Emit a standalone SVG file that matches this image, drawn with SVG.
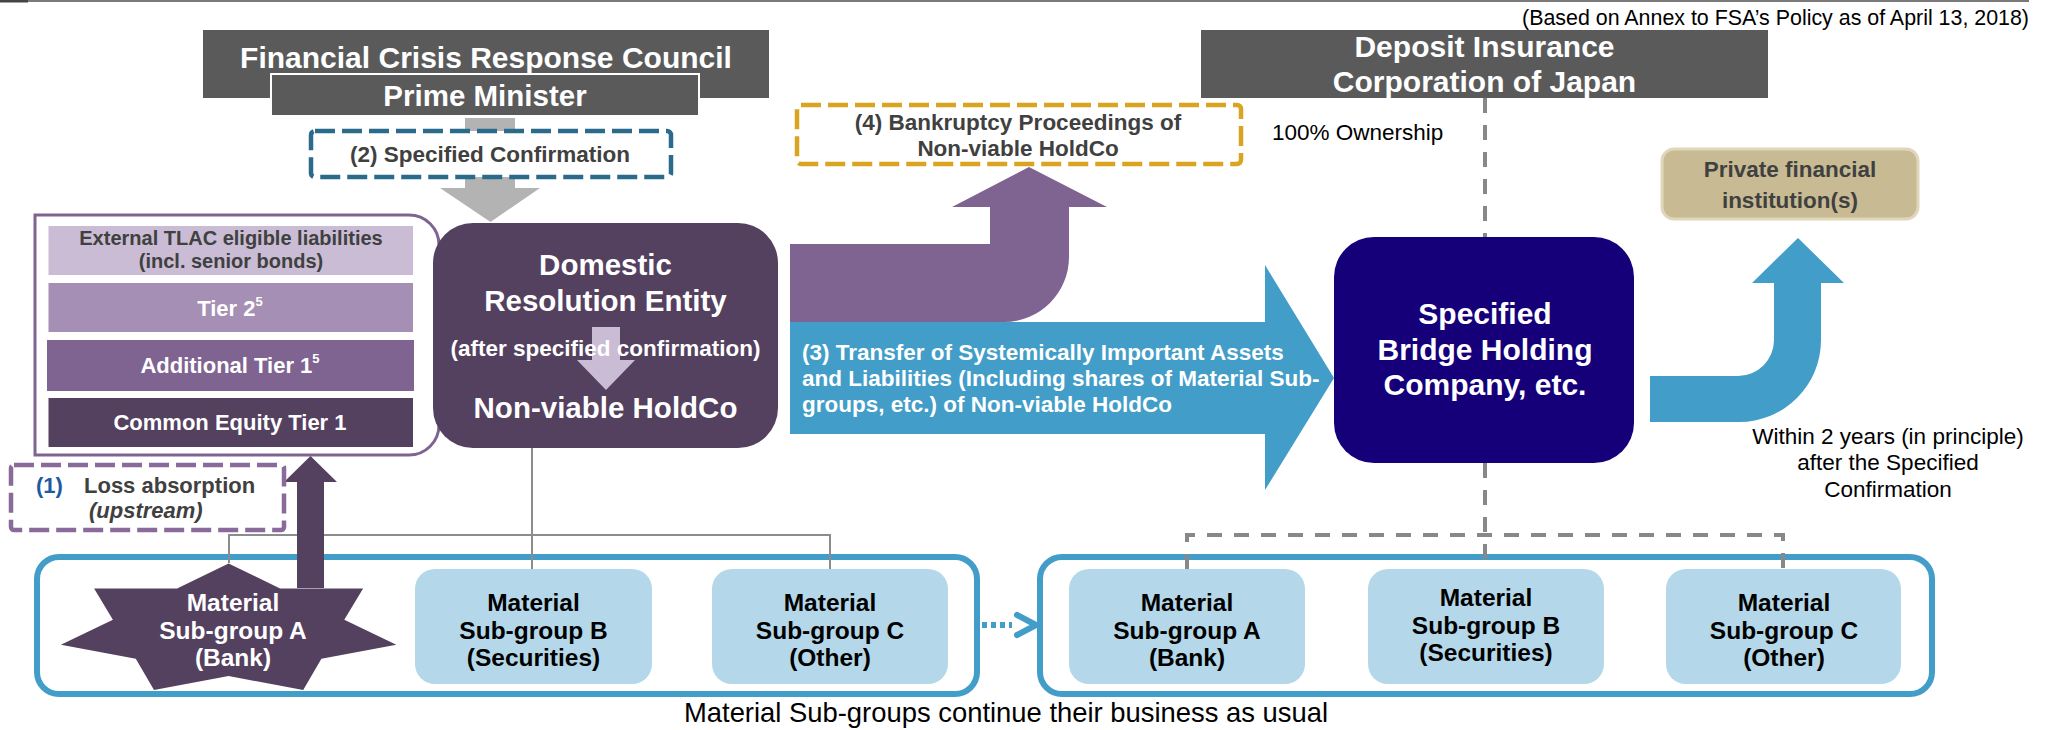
<svg xmlns="http://www.w3.org/2000/svg" width="2049" height="730" viewBox="0 0 2049 730">
<defs>
<style>
text{font-family:"Liberation Sans",Arial,sans-serif}
.b{font-weight:bold}
.w{fill:#ffffff}
.dg{fill:#404040}
.k{fill:#000000}
.mid{text-anchor:middle}
.gray{fill:#5a5a5a}
.dpur{fill:#54405f}
.lblue{fill:#b4d8e9}
.sg{font-size:24.5px;font-weight:bold;text-anchor:middle}
.cont{fill:#ffffff;stroke:#429dc8;stroke-width:6}
.thin{fill:none;stroke:#8c8c8c;stroke-width:2}
.dash{fill:none;stroke:#888888;stroke-width:4;stroke-dasharray:15 12}
.dbox{fill:#ffffff;stroke-width:4.5;stroke-dasharray:20 7}
</style>
</defs>
<rect width="2049" height="730" fill="#ffffff"/>
<line x1="0" y1="1" x2="2029" y2="1" stroke="#7a7a7a" stroke-width="2"/>
<line x1="0" y1="1" x2="28" y2="1" stroke="#444444" stroke-width="3"/>
<text x="2029" y="25" font-size="21.4" class="k" text-anchor="end">(Based on Annex to FSA’s Policy as of April 13, 2018)</text>

<!-- containers -->
<g id="tlac-stack">
<path d="M35 215 H409 A30 30 0 0 1 439 245 V425 A30 30 0 0 1 409 455 H35 Z" fill="#ffffff" stroke="#7f6491" stroke-width="3"/>
<rect x="48.5" y="226" width="364.5" height="49" fill="#c9bcd4"/>
<text x="231" y="245" font-size="20" class="b dg mid">External TLAC eligible liabilities</text>
<text x="231" y="268" font-size="20" class="b dg mid">(incl. senior bonds)</text>
<rect x="48.5" y="283" width="364.5" height="49" fill="#a58fb4"/>
<text x="230" y="316" font-size="22" class="b w mid">Tier 2<tspan font-size="13" dy="-10">5</tspan></text>
<rect x="47" y="340" width="367" height="51" fill="#7f6491"/>
<text x="230" y="373" font-size="22" class="b w mid">Additional Tier 1<tspan font-size="13" dy="-10">5</tspan></text>
<rect x="48.5" y="398" width="364.5" height="49" class="dpur"/>
<text x="230" y="430" font-size="22" class="b w mid">Common Equity Tier 1</text>
</g>
<g id="group-left">
<rect x="37" y="557" width="940" height="137" rx="22" class="cont"/>
</g>
<g id="group-right">
<rect x="1040" y="557" width="892" height="137" rx="22" class="cont"/>
</g>

<!-- connectors -->
<g id="connectors">
<polyline points="532,448 532,569" class="thin"/>
<polyline points="229,563 229,535 830,535 830,569" class="thin"/>
<path d="M465 118 H515 V188 H540 L490.5 222 L440 188 H465 Z" fill="#b3b3b3"/>
<line x1="1485" y1="98" x2="1485" y2="237" class="dash"/>
<line x1="1485" y1="463" x2="1485" y2="569" class="dash"/>
<polyline points="1187,569 1187,535 1783,535 1783,569" class="dash"/>
<path d="M297 588 V482 H284 L310.5 456 L337 482 H324 V588 Z" class="dpur"/>
<line x1="982" y1="625" x2="1012" y2="625" stroke="#429dc8" stroke-width="6" stroke-dasharray="5 4"/>
<polyline points="1017,615 1036,625 1017,635" fill="none" stroke="#429dc8" stroke-width="6" stroke-linecap="round" stroke-linejoin="round"/>
<path d="M790 244 H990 V207 H952 L1029 167 L1107 207 H1069 V257 A65 65 0 0 1 1004 322 H790 Z" fill="#7f6491"/>
<path d="M790 322 H1265 V265 L1334 378 L1265 490 V434 H790 Z" fill="#429dc8"/>
<text x="802" y="360" font-size="22.5" class="b w">(3) Transfer of Systemically Important Assets</text>
<text x="802" y="386" font-size="22.5" class="b w">and Liabilities (Including shares of Material Sub-</text>
<text x="802" y="412" font-size="22.5" class="b w">groups, etc.) of Non-viable HoldCo</text>
<path d="M1650 376 H1738 A36 36 0 0 0 1774 340 V283 H1752 L1798 238 L1844 283 H1821 V340 A82 82 0 0 1 1739 422 H1650 Z" fill="#429dc8"/>
</g>

<!-- nodes -->
<g id="fcrc">
<rect x="203" y="30" width="566" height="68" class="gray"/>
<text x="486" y="68" font-size="30" class="b w mid">Financial Crisis Response Council</text>
</g>
<g id="prime-minister">
<rect x="271" y="74" width="428" height="42" class="gray" stroke="#ffffff" stroke-width="2"/>
<text x="485" y="106" font-size="29.5" class="b w mid">Prime Minister</text>
</g>
<g id="specified-confirmation">
<rect x="311" y="131" width="360" height="46" rx="4" class="dbox" stroke="#2a6b8b"/>
<text x="490" y="162" font-size="22.5" class="b dg mid">(2) Specified Confirmation</text>
</g>
<g id="domestic-entity">
<rect x="433" y="223" width="345" height="225" rx="40" class="dpur"/>
<path d="M592 327 H620 V360 H635 L606 390 L577 360 H592 Z" fill="#c9bcd4"/>
<text x="605.5" y="275" font-size="29.5" class="b w mid">Domestic</text>
<text x="605.5" y="311" font-size="29.5" class="b w mid">Resolution Entity</text>
<text x="605.5" y="356" font-size="22.5" class="b w mid">(after specified confirmation)</text>
<text x="605.5" y="418" font-size="29.5" class="b w mid">Non-viable HoldCo</text>
</g>
<g id="loss-absorption">
<rect x="11" y="465" width="273" height="65" rx="3" class="dbox" stroke="#8a6a9a"/>
<text x="36" y="493" font-size="22" class="b" fill="#1f5aa0">(1)</text>
<text x="84" y="493" font-size="22" class="b dg">Loss absorption</text>
<text x="89" y="518" font-size="22" class="b dg" font-style="italic">(upstream)</text>
</g>
<g id="bankruptcy">
<rect x="797" y="105" width="444" height="59" rx="4" class="dbox" stroke="#d9a520"/>
<text x="1018" y="130" font-size="22.5" class="b dg mid">(4) Bankruptcy Proceedings of</text>
<text x="1018" y="156" font-size="22.5" class="b dg mid">Non-viable HoldCo</text>
</g>
<g id="dicj">
<rect x="1201" y="30" width="567" height="68" class="gray"/>
<text x="1484.5" y="57" font-size="30" class="b w mid">Deposit Insurance</text>
<text x="1484.5" y="92" font-size="30" class="b w mid">Corporation of Japan</text>
</g>
<g id="ownership-label">
<text x="1272" y="140" font-size="22.5" class="k">100% Ownership</text>
</g>
<g id="private-fi">
<rect x="1662" y="149" width="256" height="70" rx="12" fill="#c8ba93" stroke="#e0d7bb" stroke-width="3"/>
<text x="1790" y="177" font-size="22.5" class="b dg mid">Private financial</text>
<text x="1790" y="208" font-size="22.5" class="b dg mid">institution(s)</text>
</g>
<g id="bridge">
<rect x="1334" y="237" width="300" height="226" rx="40" fill="#15007a"/>
<text x="1485" y="324" font-size="30" class="b w mid">Specified</text>
<text x="1485" y="360" font-size="30" class="b w mid">Bridge Holding</text>
<text x="1485" y="395" font-size="30" class="b w mid">Company, etc.</text>
</g>
<g id="within-label">
<text x="1888" y="444" font-size="22.5" class="k mid">Within 2 years (in principle)</text>
<text x="1888" y="470" font-size="22.5" class="k mid">after the Specified</text>
<text x="1888" y="497" font-size="22.5" class="k mid">Confirmation</text>
</g>
<g id="subgroup-a-left">
<polygon points="228.6,563.4 280.1,588.6 363.1,588.5 344.3,619.8 396.3,644.8 321.4,658.7 303.2,690 228.6,676 154,690 135.8,658.7 60.9,644.8 112.9,619.8 94.1,588.5 177.1,588.6" class="dpur"/>
<text x="233" y="611" class="sg w">Material</text>
<text x="233" y="638.5" class="sg w">Sub-group A</text>
<text x="233" y="666" class="sg w">(Bank)</text>
</g>
<g id="subgroup-b-left">
<rect x="415" y="569" width="237" height="115" rx="20" class="lblue"/>
<text x="533.5" y="611" class="sg k">Material</text>
<text x="533.5" y="638.5" class="sg k">Sub-group B</text>
<text x="533.5" y="666" class="sg k">(Securities)</text>
</g>
<g id="subgroup-c-left">
<rect x="712" y="569" width="236" height="115" rx="20" class="lblue"/>
<text x="830" y="611" class="sg k">Material</text>
<text x="830" y="638.5" class="sg k">Sub-group C</text>
<text x="830" y="666" class="sg k">(Other)</text>
</g>
<g id="subgroup-a-right">
<rect x="1069" y="569" width="236" height="115" rx="20" class="lblue"/>
<text x="1187" y="611" class="sg k">Material</text>
<text x="1187" y="638.5" class="sg k">Sub-group A</text>
<text x="1187" y="666" class="sg k">(Bank)</text>
</g>
<g id="subgroup-b-right">
<rect x="1368" y="569" width="236" height="115" rx="20" class="lblue"/>
<text x="1486" y="606" class="sg k">Material</text>
<text x="1486" y="633.5" class="sg k">Sub-group B</text>
<text x="1486" y="661" class="sg k">(Securities)</text>
</g>
<g id="subgroup-c-right">
<rect x="1666" y="569" width="235" height="115" rx="20" class="lblue"/>
<text x="1784" y="611" class="sg k">Material</text>
<text x="1784" y="638.5" class="sg k">Sub-group C</text>
<text x="1784" y="666" class="sg k">(Other)</text>
</g>
<g id="footer-label">
<text x="1006" y="722" font-size="27.4" class="k mid">Material Sub-groups continue their business as usual</text>
</g>
</svg>
